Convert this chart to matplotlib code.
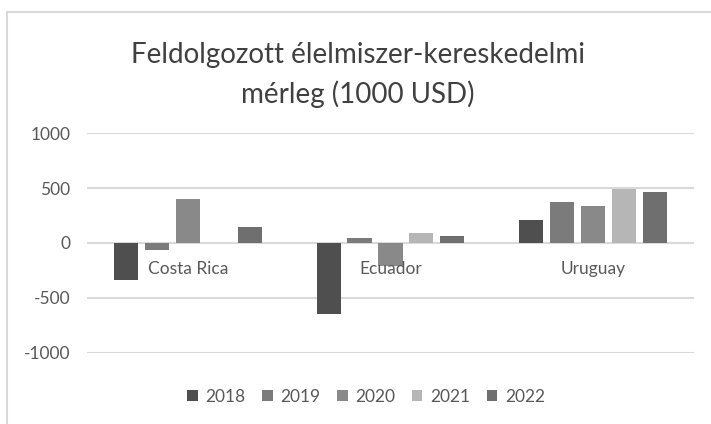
import numpy as np
import matplotlib
matplotlib.use("Agg")
from matplotlib import pyplot as plt
from matplotlib.patches import Patch

plt.rcParams['font.family'] = ['Lato', 'DejaVu Sans']

countries = ["Costa Rica", "Ecuador", "Uruguay"]
years = ["2018", "2019", "2020", "2021", "2022"]
v2018 = [-337, -646, 210]
v2019 = [-60, 45, 369]
v2020 = [396, -210, 336]
v2021 = [0, 90, 489]
v2022 = [144, 66, 462]
colors = ["#4f4f4f", "#7b7b7b", "#898989", "#b6b6b6", "#6f6f6f"]

series = [v2018, v2019, v2020, v2021, v2022]
txt = "#595959"

fig = plt.figure(figsize=(7.11, 4.24), dpi=100)
ax = fig.add_axes([0.1224, 0.1675, 0.8536, 0.5188])

x = np.arange(len(countries))
step = 0.153
for i, vals in enumerate(series):
    ax.bar(x + (i - 2) * step, vals, width=0.119, color=colors[i], zorder=3)

ax.set_xlim(-0.5, 2.5)
ax.set_ylim(-1000, 1000)
ax.set_yticks([-1000, -500, 0, 500, 1000])
ax.set_yticklabels(["-1000", "-500", "0", "500", "1000"])
ax.tick_params(axis='y', length=0, pad=12, labelsize=12.5, labelcolor=txt)
ax.set_xticks([])
ax.grid(axis='y', color="#d9d9d9", linewidth=1.5, zorder=0)
for s in ax.spines.values():
    s.set_visible(False)

for i, c in enumerate(countries):
    ax.text(x[i], -240, c, ha='center', va='center', fontsize=12.5, color=txt, zorder=4)

fig.text(0.503, 1 - 63/424, "Feldolgozott élelmiszer-kereskedelmi",
         ha='center', va='baseline', fontsize=20, color="#404040")
fig.text(0.503, 1 - 103/424, "mérleg (1000 USD)",
         ha='center', va='baseline', fontsize=20, color="#404040")

handles = [Patch(facecolor=colors[i], label=years[i]) for i in range(5)]
fig.legend(handles=handles, loc='center', bbox_to_anchor=(0.515, 0.064), ncol=5,
           frameon=False, fontsize=12.5, labelcolor=txt, handlelength=0.6, handleheight=0.6,
           handletextpad=0.45, columnspacing=0.95)

# chart border (left and top edges visible)
fig.add_artist(plt.Line2D([7/711, 7/711], [0, 1 - 12/424], transform=fig.transFigure,
                          color="#d9d9d9", linewidth=1.5))
fig.add_artist(plt.Line2D([7/711, 1], [1 - 12/424, 1 - 12/424], transform=fig.transFigure,
                          color="#d9d9d9", linewidth=1.5))

plt.savefig('out.png', dpi=100)
